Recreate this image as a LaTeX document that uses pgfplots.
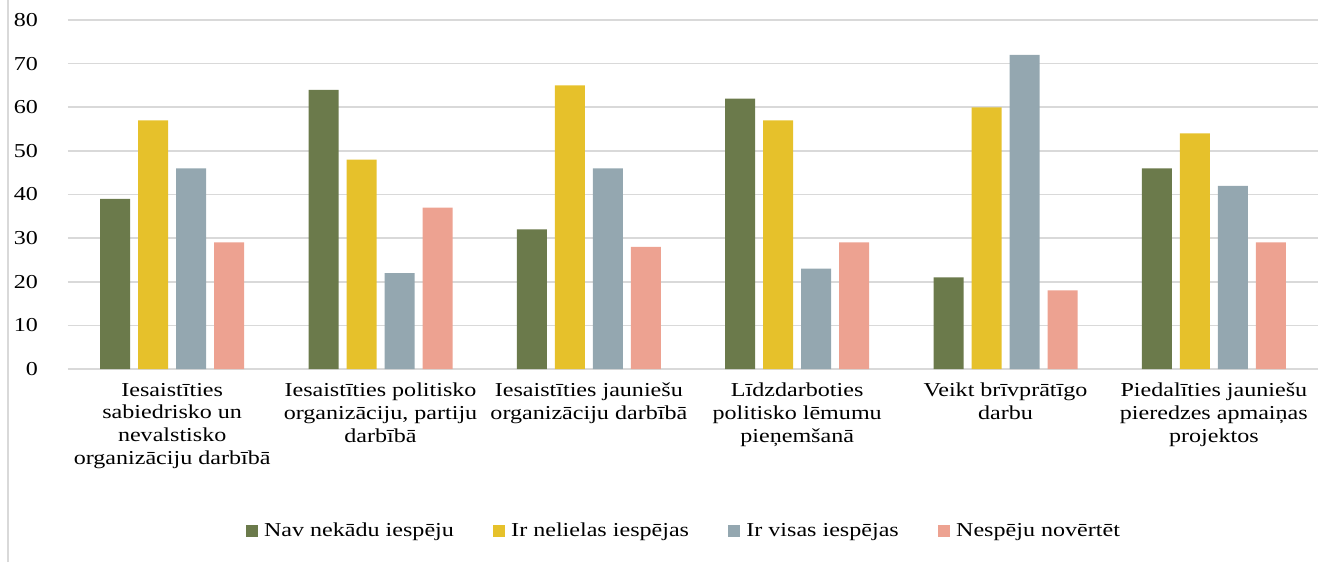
\documentclass[border=0pt]{standalone}
\usepackage{fontspec}
\setmainfont{Liberation Serif}[FakeStretch=1.22]
\usepackage{pgfplots}
\pgfplotsset{compat=1.18}
\definecolor{cgreen}{HTML}{6B7A4B}
\definecolor{cyellow}{HTML}{E6C12B}
\definecolor{cblue}{HTML}{94A7B0}
\definecolor{csalmon}{HTML}{EDA291}
\definecolor{cgrid}{HTML}{D9D9D9}
\begin{document}
\begin{tikzpicture}
\useasboundingbox (-51pt,-144.75pt) rectangle (939pt,276.75pt);
\draw[cgrid, line width=1pt] (-45pt,-144.75pt) -- (-45pt,276.75pt);
\begin{axis}[
  anchor=south west, at={(0pt,0pt)},
  scale only axis,
  width=937.5pt, height=261.75pt,
  ybar=6pt, bar width=22.5pt,
  xmin=-0.5, xmax=5.5,
  ymin=0, ymax=80,
  ytick={0,10,...,80},
  xtick=data,
  xticklabels={
    {Iesaistīties\\sabiedrisko un\\nevalstisko\\organizāciju darbībā},
    {Iesaistīties politisko\\organizāciju, partiju\\darbībā},
    {Iesaistīties jauniešu\\organizāciju darbībā},
    {Līdzdarboties\\politisko lēmumu\\pieņemšanā},
    {Veikt brīvprātīgo\\darbu},
    {Piedalīties jauniešu\\pieredzes apmaiņas\\projektos}},
  /pgf/number format/assume math mode=true,
  tick label style={font=\rmfamily\fontsize{14.8}{17}\selectfont},
  xticklabel style={align=center, yshift=-7pt},
  yticklabel style={xshift=-19pt},
  major tick length=0pt,
  axis x line*=bottom,
  axis y line*=left,
  y axis line style={draw=none},
  x axis line style={cgrid, line width=1.2pt, -},
  ymajorgrids,
  major grid style={cgrid, line width=1.2pt},
  legend columns=-1,
  legend style={draw=none, at={(0.4928,-0.464)}, anchor=center,
    font=\rmfamily\fontsize{14.8}{17}\selectfont,
    /tikz/every even column/.append style={column sep=28pt},
    nodes={inner sep=1.5pt}},
  legend image code/.code={\fill[#1] (0pt,-4.5pt) rectangle (9pt,4.5pt); \path (12pt,0pt);},
]
\addplot[fill=cgreen, draw=none] coordinates {(0,39) (1,64) (2,32) (3,62) (4,21) (5,46)};
\addplot[fill=cyellow, draw=none] coordinates {(0,57) (1,48) (2,65) (3,57) (4,60) (5,54)};
\addplot[fill=cblue, draw=none] coordinates {(0,46) (1,22) (2,46) (3,23) (4,72) (5,42)};
\addplot[fill=csalmon, draw=none] coordinates {(0,29) (1,37) (2,28) (3,29) (4,18) (5,29)};
\legend{Nav nekādu iespēju, Ir nelielas iespējas, Ir visas iespējas, Nespēju novērtēt}
\end{axis}
\end{tikzpicture}
\end{document}
